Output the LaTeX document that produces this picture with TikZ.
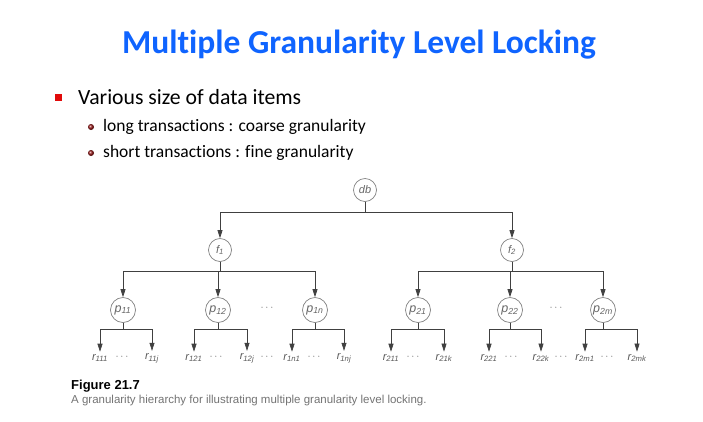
\documentclass[tikz,border=0pt]{standalone}
\usepackage{fontspec}
\setmainfont{Carlito}[Ligatures=NoCommon]
\newfontfamily\figfont{Liberation Sans}
\usetikzlibrary{arrows.meta}
\definecolor{titleblue}{RGB}{15,100,255}
\definecolor{bulletred}{RGB}{225,10,10}
\definecolor{darkred}{RGB}{150,20,20}
\begin{document}
\begin{tikzpicture}[x=1pt,y=-1pt,
 nd/.style={circle,draw=black!50,line width=0.7pt,minimum size=23pt,inner sep=0pt,font=\figfont\itshape\fontsize{11}{12}\selectfont,text=black!60},
 pn/.style={nd,minimum size=25pt,font=\figfont\itshape\fontsize{12.5}{13}\selectfont},
 conn/.style={draw=black!75,line width=0.7pt},
 arr/.style={conn,-{Triangle[length=8pt,width=5pt]}},
 lf/.style={font=\figfont\itshape\fontsize{11}{12}\selectfont,text=black!65,inner sep=0pt,outer sep=2.5pt},
 dts/.style={font=\figfont\fontsize{11}{12}\selectfont,text=black!55,inner sep=0pt},
 txt/.style={inner sep=0pt,anchor=west}]
\useasboundingbox (0,0) rectangle (703,421);
% title and bullets
\node[inner sep=0pt,text=titleblue,font=\bfseries\fontsize{33.5}{36}\selectfont] (title) at (359,45) {Multiple Granularity Level Locking};
\node[fill=bulletred,minimum size=7pt,inner sep=0pt] (b1) at (58,97) {};
\node[txt,font=\fontsize{21.7}{24}\selectfont] (t1) at (78,97) {Various size of data items};
\shade[ball color=darkred] (91,127) circle (3pt);
\shade[ball color=darkred] (91,153) circle (3pt);
\node[txt,font=\fontsize{17.5}{20}\selectfont] (t2) at (103,127) {long transactions : coarse granularity};
\node[txt,font=\fontsize{17.5}{20}\selectfont] (t3) at (103,153) {short transactions : fine granularity};
% tree nodes
\node[nd] (db) at (365,190) {db};
\node[nd] (f1) at (220,250) {f\textsubscript{1}};
\node[nd] (f2) at (512,250) {f\textsubscript{2}};
\node[pn] (p11) at (123,310) {p\textsubscript{11}};
\node[pn] (p12) at (218,310) {p\textsubscript{12}};
\node[pn] (p1n) at (315,310) {p\textsubscript{1\textit{n}}};
\node[pn] (p21) at (418,310) {p\textsubscript{21}};
\node[pn] (p22) at (510,310) {p\textsubscript{22}};
\node[pn] (p2m) at (603,310) {p\textsubscript{2\textit{m}}};
\node[dts] (d1) at (267,308) {$\cdots$};
\node[dts] (d2) at (556,308) {$\cdots$};
\coordinate (dbh) at (365,212);
\coordinate (f1h) at (220,271);
\coordinate (f2h) at (512,271);
\draw[conn] (db) -- (dbh);
\draw[arr] (dbh) -| (f1);
\draw[arr] (dbh) -| (f2);
\draw[conn] (f1) -- (f1h);
\draw[conn] (f2) -- (f2h);
\foreach \p in {p11,p12,p1n}{\draw[arr] (f1h) -| (\p);}
\foreach \p in {p21,p22,p2m}{\draw[arr] (f2h) -| (\p);}
% leaves
\foreach \p/\x/\a/\b/\la/\lb in {p11/123/96/148/111/11j, p12/218/190/243/121/12j, p1n/315/288/340/1n1/1nj, p21/418/387/440/211/21k, p22/510/485/537/221/22k, p2m/603/581/633/2m1/2mk}{
  \coordinate (\p h) at (\x,329);
  \node[lf] (r\la) at (\a+4,358) {r\textsubscript{\la}};
  \node[lf] (r\lb) at (\b+4,358) {r\textsubscript{\lb}};
  \draw[conn] (\p) -- (\p h);
  \draw[arr] (\p h) -| (r\la);
  \draw[arr] (\p h) -| (r\lb);
}
\foreach \x/\n in {122/e1,216/e2,267/e3,314/e4,413/e5,511/e6,561/e7,607/e8}{
  \node[dts] (\n) at (\x,357) {$\cdots$};
}
% caption
\node[txt,font=\figfont\bfseries\fontsize{13}{14}\selectfont] (cap1) at (71,386) {Figure 21.7};
\node[txt,font=\figfont\fontsize{11.5}{13}\selectfont,text=black!55] (cap2) at (71,401) {A granularity hierarchy for illustrating multiple granularity level locking.};
\end{tikzpicture}
\end{document}
